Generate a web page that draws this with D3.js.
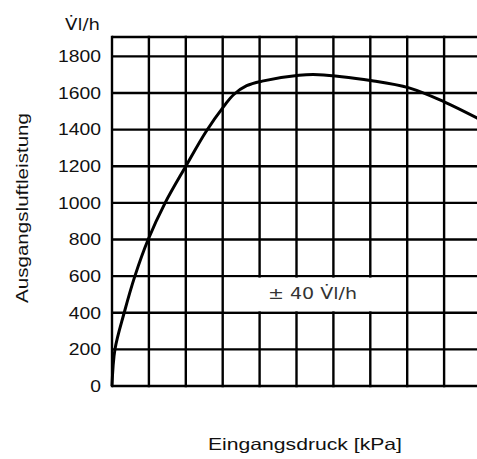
<!DOCTYPE html>
<html><head><meta charset="utf-8">
<script src="https://cdn.jsdelivr.net/npm/d3@7"></script>
<style>body{margin:0;background:#fff}svg{display:block}text{font-family:"Liberation Sans",Arial,sans-serif;fill:#111}</style>
</head><body>
<script>
const yTicks = [0,200,400,600,800,1000,1200,1400,1600,1800];
const xGrid = [0,1,2,3,4,5,6,7,8,9,10];
const pressure = [0,0.08,0.33,0.62,0.98,1.44,2.0,2.55,3.04,3.3,3.65,4.07,5.07,5.6,7.05,8.05,9.0,9.89,10.2];
const airflow  = [0,200,400,600,800,1000,1200,1390,1530,1592,1640,1665,1697,1700,1667,1628,1552,1464,1430];
const yLabel = "Ausgangsluftleistung";
const xLabel = "Eingangsdruck [kPa]";
const unitLabel = "V\u0307l/h";
const noteLabel = "\u00b1 40 V\u0307l/h";

const W = 477, H = 459, FS = "16.5px";
const svg = d3.select("body").append("svg").attr("width", W).attr("height", H);
const x = d3.scaleLinear().domain([0,10]).range([112,481]);
const y = d3.scaleLinear().domain([0,1906]).range([386,37]);

const g = svg.append("g");
g.selectAll("line.h").data(yTicks.concat([1906])).join("line")
  .attr("x1", x(0)).attr("x2", x(10.5)).attr("y1", d=>y(d)).attr("y2", d=>y(d))
  .attr("stroke","#000").attr("stroke-width",2.4);
g.selectAll("line.v").data(xGrid).join("line")
  .attr("x1", d=>x(d)).attr("x2", d=>x(d)).attr("y1", y(0)+1.2).attr("y2", y(1906)-1.2)
  .attr("stroke","#000").attr("stroke-width",2.4);

svg.append("rect").attr("x", x(3)+1.5).attr("width", x(8)-x(3)-3)
  .attr("y", y(600)+1.5).attr("height", y(400)-y(600)-3).attr("fill","#fff");
svg.append("text").attr("x", 268).attr("y", 299)
  .attr("textLength", 89).attr("lengthAdjust","spacingAndGlyphs")
  .style("font-family","DejaVu Sans, sans-serif").style("font-size","16px").style("fill","#333").text(noteLabel);

const pts = pressure.map((p,i)=>[p, airflow[i]]);
svg.append("path").datum(pts)
  .attr("d", d3.line().x(d=>x(d[0])).y(d=>y(d[1])).curve(d3.curveCatmullRom.alpha(0.5)))
  .attr("fill","none").attr("stroke","#000").attr("stroke-width",3);

const ax = svg.append("g").attr("transform", `translate(${x(0)},0)`)
  .call(d3.axisLeft(y).tickValues(yTicks).tickSize(0).tickPadding(11).tickFormat(d3.format("d")));
ax.select(".domain").remove();
ax.selectAll("text").style("font-size",FS).style("font-family","Liberation Sans, Arial, sans-serif")
  .attr("fill","#111")
  .attr("textLength", d => String(d).length*10.75).attr("lengthAdjust","spacingAndGlyphs");

svg.append("text").attr("x", 65).attr("y", 30)
  .attr("textLength", 35).attr("lengthAdjust","spacingAndGlyphs")
  .style("font-family","DejaVu Sans, sans-serif").style("font-size","16px").text(unitLabel);
svg.append("text").attr("transform","translate(28,303) rotate(-90)")
  .attr("textLength", 190).attr("lengthAdjust","spacingAndGlyphs")
  .style("font-size",FS).text(yLabel);
svg.append("text").attr("x", 208).attr("y", 450)
  .attr("textLength", 194).attr("lengthAdjust","spacingAndGlyphs")
  .style("font-size",FS).text(xLabel);
</script>
</body></html>
